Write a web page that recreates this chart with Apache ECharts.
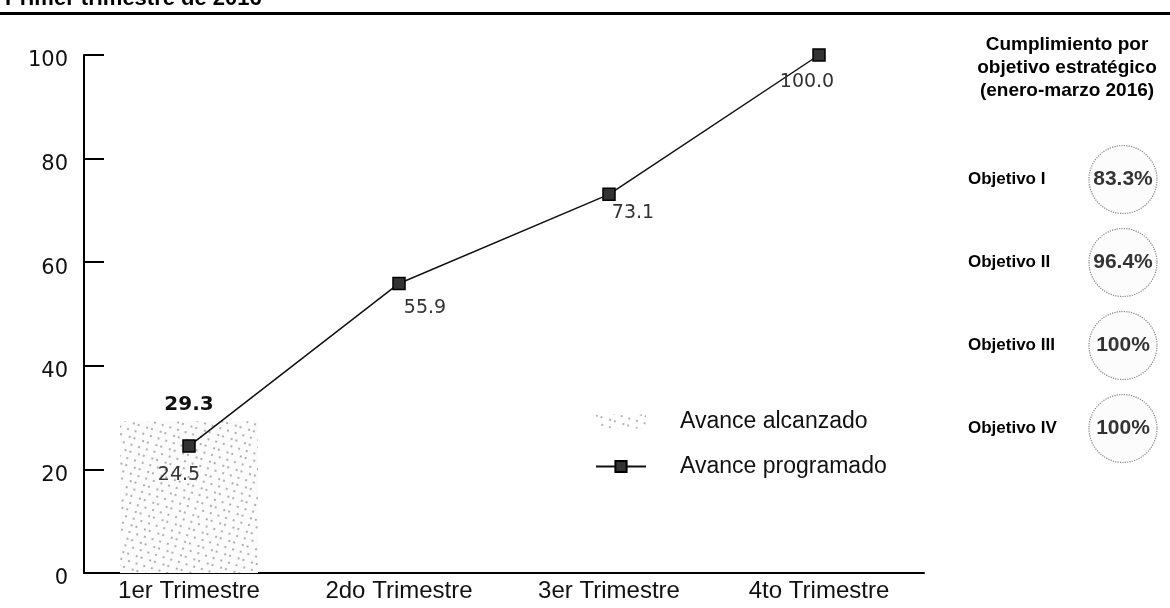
<!DOCTYPE html>
<html>
<head>
<meta charset="utf-8">
<script src="https://cdn.jsdelivr.net/npm/echarts@6/dist/echarts.min.js"></script>
<style>html,body{margin:0;padding:0;background:#fff}#c{width:1170px;height:608px}</style>
</head>
<body>
<div id="c"></div>
<script>
const categories = ['1er Trimestre', '2do Trimestre', '3er Trimestre', '4to Trimestre'];
const avanceAlcanzado = [29.3, null, null, null];
const avanceProgramado = [24.5, 55.9, 73.1, 100.0];
const yTicks = [0, 20, 40, 60, 80, 100];
const objetivos = ['Objetivo I', 'Objetivo II', 'Objetivo III', 'Objetivo IV'];
const cumplimiento = [83.3, 96.4, 100, 100];

const labelOffsets = [[-10, 3], [26, -2], [24, -8], [-12, 1]];

const stipple = {
  symbol: 'circle', symbolSize: 1, color: 'rgba(0,0,0,0.4)',
  dashArrayX: [[1.3, 5.5], [1.3, 3, 1.3, 7]], dashArrayY: [1.3, 5], rotation: 0.3
};

const chart = echarts.init(document.getElementById('c'));
chart.setOption({
  animation: false,
  backgroundColor: '#fff',
  title: [
    { text: 'Primer trimestre de 2016', left: 0, top: -17,
      textStyle: { fontFamily: 'Liberation Sans', fontWeight: 'bold', fontSize: 22, color: '#000' } },
    { text: 'Cumplimiento por\nobjetivo estratégico\n(enero-marzo 2016)', left: 1062, top: 28, textAlign: 'center',
      textStyle: { fontFamily: 'Liberation Sans', fontWeight: 'bold', fontSize: 19, lineHeight: 23, color: '#000' } }
  ],
  graphic: [
    { type: 'rect', shape: { x: 0, y: 12, width: 1170, height: 3 }, style: { fill: '#000' } }
  ],
  legend: {
    orient: 'vertical', left: 590, top: 405, itemWidth: 50, itemHeight: 14, itemGap: 22,
    textStyle: { fontFamily: 'Liberation Sans', fontSize: 23, color: '#111', padding: [0, 0, 0, 29] },
    data: [
      { name: 'Avance alcanzado', icon: 'rect', itemStyle: { color: 'rgba(255,255,255,0)' } },
      { name: 'Avance programado' }
    ]
  },
  grid: [
    { left: 84, right: 246, top: 55, bottom: 35 },
    { left: 1090, width: 66, top: 138, height: 332 }
  ],
  xAxis: [
    { type: 'category', data: categories, gridIndex: 0,
      axisLine: { lineStyle: { color: '#000', width: 2 } },
      axisTick: { inside: true, length: 10, lineStyle: { color: '#000', width: 2 } },
      axisLabel: { fontFamily: 'Liberation Sans', fontSize: 24, color: '#111', margin: 6 } },
    { type: 'value', gridIndex: 1, min: -1, max: 1, show: false }
  ],
  yAxis: [
    { type: 'value', gridIndex: 0, min: 0, max: 100, interval: 20,
      splitLine: { show: false },
      axisLine: { show: true, lineStyle: { color: '#000', width: 2 } },
      axisTick: { show: true, inside: true, length: 20, lineStyle: { color: '#000', width: 2 } },
      axisLabel: { margin: 16,
        formatter: v => yTicks.includes(v) ? '{a|' + v + '}' : '',
        rich: { a: { fontFamily: 'DejaVu Sans', fontSize: 21, color: '#111', padding: [12, 0, 0, 0] } } } },
    { type: 'category', gridIndex: 1, data: objetivos, inverse: true,
      axisLine: { show: false }, axisTick: { show: false }, splitLine: { show: false },
      axisLabel: { align: 'left', margin: 122, fontFamily: 'Liberation Sans', fontWeight: 'bold', fontSize: 17, color: '#000' } }
  ],
  series: [
    { name: 'Avance alcanzado', type: 'bar', xAxisIndex: 0, yAxisIndex: 0, data: avanceAlcanzado,
      barWidth: 138,
      itemStyle: { color: '#fbfbfb', decal: stipple },
      label: { show: true, position: 'top', distance: 6, fontFamily: 'DejaVu Sans', fontWeight: 'bold', fontSize: 20, color: '#111' } },
    { name: 'Avance programado', type: 'line', xAxisIndex: 0, yAxisIndex: 0,
      data: avanceProgramado.map((v, i) => ({ value: v, label: { offset: labelOffsets[i] } })),
      symbol: 'rect', symbolSize: 12,
      lineStyle: { color: '#111', width: 1.5 },
      itemStyle: { color: '#333', borderColor: '#000', borderWidth: 1.5 },
      label: { show: true, position: 'bottom', distance: 10, fontFamily: 'DejaVu Sans', fontSize: 19, color: '#333',
        formatter: p => p.value.toFixed(1) } },
    { name: 'Cumplimiento', type: 'scatter', xAxisIndex: 1, yAxisIndex: 1,
      data: cumplimiento.map((v, i) => [0, i, v]),
      symbol: 'circle', symbolSize: 68,
      itemStyle: { color: '#fbfbfb', borderColor: '#666', borderWidth: 1.2, borderType: 'dotted', decal: stipple },
      label: { show: true, position: 'inside', fontFamily: 'Liberation Sans', fontWeight: 'bold', fontSize: 21, color: '#000',
        formatter: p => p.value[2] + '%' } }
  ]
});
</script>
</body>
</html>
